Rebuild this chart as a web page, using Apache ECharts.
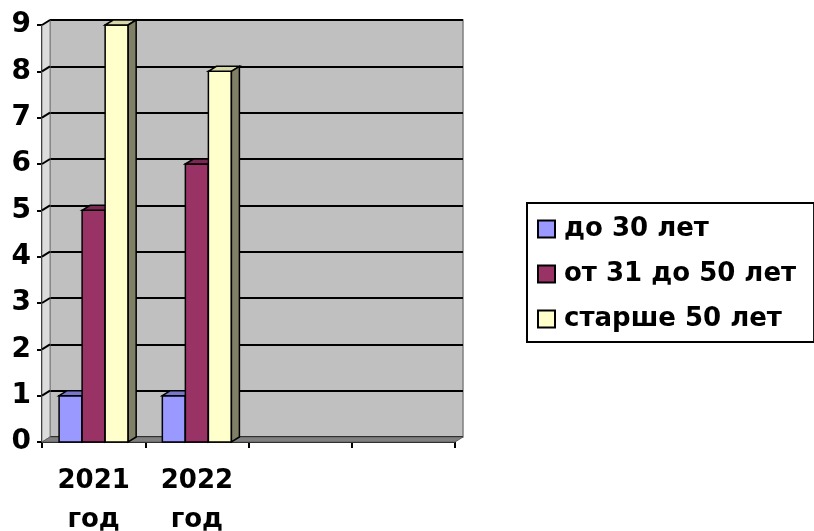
<!DOCTYPE html>
<html>
<head>
<meta charset="utf-8">
<script src="https://cdn.jsdelivr.net/npm/echarts@6/dist/echarts.min.js"></script>
<style>
html,body{margin:0;padding:0;background:#fff;}
#c{width:814px;height:531px;}
</style>
</head>
<body>
<div id="c"></div>
<script>
// ---- data ----
const categories = ['2021\nгод', '2022\nгод', '', ''];
const seriesNames = ['до 30 лет', 'от 31 до 50 лет', 'старше 50 лет'];
const under30 = [1, 1];
const from31to50 = [5, 6];
const over50 = [9, 8];
const yTicks = [0, 1, 2, 3, 4, 5, 6, 7, 8, 9];

// ---- style ----
const FONT = '"DejaVu Sans", "Liberation Sans", sans-serif';
const DX = 8, DY = -5;
const colors = ['#9999FF', '#993366', '#FFFFCC'];
const topColors = ['#7777CC', '#7A2952', '#D8D8A8'];
const sideColors = ['#555599', '#4D1A33', '#808066'];

const chart = echarts.init(document.getElementById('c'), null, {renderer: 'canvas'});

function barRender(si) {
  return function (params, api) {
    const cat = api.value(0), val = api.value(1);
    const c = api.coord([cat, val]);
    const c0 = api.coord([cat, 0]);
    const band = api.size([1, 0])[0];
    const w = band * 0.223;
    const x = c[0] + (si - 1) * w - w / 2;
    const yt = c[1], yb = c0[1];
    const line = {stroke: '#000', lineWidth: 1.5};
    return {
      type: 'group',
      children: [
        {type: 'rect', shape: {x: x, y: yt, width: w, height: yb - yt},
          style: Object.assign({fill: colors[si]}, line)},
        {type: 'polygon', shape: {points: [[x, yt], [x + DX, yt + DY], [x + w + DX, yt + DY], [x + w, yt]]},
          style: Object.assign({fill: topColors[si]}, line)},
        {type: 'polygon', shape: {points: [[x + w, yt], [x + w + DX, yt + DY], [x + w + DX, yb + DY], [x + w, yb]]},
          style: Object.assign({fill: sideColors[si]}, line)}
      ]
    };
  };
}

function floorRender(params, api) {
  const band = api.size([1, 0])[0];
  const a = api.coord([0, 0]);
  const b = api.coord([categories.length - 1, 0]);
  const x0 = a[0] - band / 2, x1 = b[0] + band / 2, y = a[1];
  return {
    type: 'polygon',
    shape: {points: [[x0, y], [x1, y], [x1 + DX, y + DY], [x0 + DX, y + DY]]},
    style: {fill: '#808080', stroke: '#606060', lineWidth: 1}
  };
}

function sideWallRender(params, api) {
  const band = api.size([1, 0])[0];
  const v = api.value(1);
  const a = api.coord([0, v]);
  const x0 = a[0] - band / 2;
  const top = api.coord([0, yTicks[yTicks.length - 1]]);
  const bot = api.coord([0, 0]);
  const children = [];
  if (params.dataIndex === 0) {
    children.push({type: 'polygon', z2: 0,
      shape: {points: [[x0, bot[1]], [x0, top[1]], [x0 + DX, top[1] + DY], [x0 + DX, bot[1] + DY]]},
      style: {fill: '#DCDCDC', stroke: '#808080', lineWidth: 1}});
  }
  if (v > 0) {
    children.push({type: 'line', z2: 1,
      shape: {x1: x0, y1: a[1], x2: x0 + DX, y2: a[1] + DY},
      style: {stroke: '#000', lineWidth: 2}});
  }
  return {type: 'group', children: children};
}

function pairs(arr) { return arr.map((v, i) => [i, v]); }

const option = {
  animation: false,
  backgroundColor: '#fff',
  grid: [
    {left: 42, right: 359, top: 25, bottom: 89, containLabel: false, outerBoundsMode: 'none'},
    {left: 42 + DX, right: 359 - DX, top: 25 + DY, bottom: 89 - DY, containLabel: false, outerBoundsMode: 'none',
      show: true, backgroundColor: '#C0C0C0', borderColor: '#808080', borderWidth: 1.5, z: 0}
  ],
  xAxis: [
    {type: 'category', gridIndex: 0, data: categories,
      axisLine: {lineStyle: {color: '#000', width: 2}},
      axisTick: {show: true, length: 6, lineStyle: {color: '#000', width: 2}},
      axisLabel: {color: '#000', fontFamily: FONT, fontWeight: 'bold', fontSize: 26, lineHeight: 39, margin: 20, interval: 0}},
    {type: 'category', gridIndex: 1, data: categories, show: false}
  ],
  yAxis: [
    {type: 'value', gridIndex: 0, min: 0, max: 9, interval: 1,
      axisLine: {show: true, lineStyle: {color: '#000', width: 2}},
      axisTick: {show: true, length: 5, lineStyle: {color: '#000', width: 2}},
      splitLine: {show: false},
      axisLabel: {color: '#000', fontFamily: FONT, fontWeight: 'bold', fontSize: 28, margin: 11}},
    {type: 'value', gridIndex: 1, min: 0, max: 9, interval: 1,
      axisLine: {show: false}, axisTick: {show: false}, axisLabel: {show: false},
      splitLine: {show: true, lineStyle: {color: '#000', width: 2}}}
  ],
  legend: {
    orient: 'vertical', left: 527, top: 203,
    padding: [12, 18, 9, 10],
    itemGap: 17, itemWidth: 17, itemHeight: 17,
    borderColor: '#000', borderWidth: 2,
    icon: 'rect',
    textStyle: {color: '#000', fontFamily: FONT, fontWeight: 'bold', fontSize: 26, lineHeight: 28, padding: [0, 0, 0, 4]},
    data: seriesNames
  },
  series: [
    {type: 'custom', name: '_side', xAxisIndex: 0, yAxisIndex: 0, renderItem: sideWallRender,
      data: yTicks.map(t => [0, t]), silent: true, z: 1},
    {type: 'custom', name: '_floor', xAxisIndex: 0, yAxisIndex: 0, renderItem: floorRender,
      data: [[0, 0]], silent: true, z: 1},
    {type: 'custom', name: seriesNames[0], xAxisIndex: 0, yAxisIndex: 0, renderItem: barRender(0),
      itemStyle: {color: colors[0], borderColor: '#000', borderWidth: 1.5}, data: pairs(under30), z: 2},
    {type: 'custom', name: seriesNames[1], xAxisIndex: 0, yAxisIndex: 0, renderItem: barRender(1),
      itemStyle: {color: colors[1], borderColor: '#000', borderWidth: 1.5}, data: pairs(from31to50), z: 3},
    {type: 'custom', name: seriesNames[2], xAxisIndex: 0, yAxisIndex: 0, renderItem: barRender(2),
      itemStyle: {color: colors[2], borderColor: '#000', borderWidth: 1.5}, data: pairs(over50), z: 4}
  ]
};
chart.setOption(option);
</script>
</body>
</html>
